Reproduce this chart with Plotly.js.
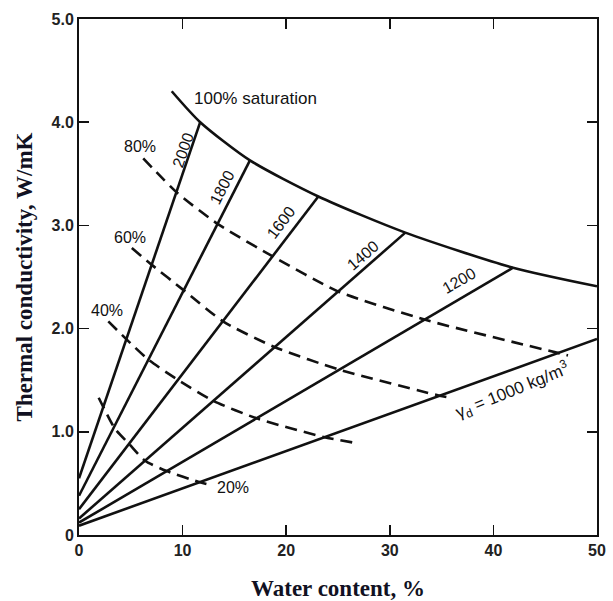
<!DOCTYPE html>
<html>
<head>
<meta charset="utf-8">
<script src="https://cdn.plot.ly/plotly-3.0.1.min.js"></script>
<style>html,body{margin:0;padding:0;background:#fff;}#chart{width:613px;height:601px;}</style>
</head>
<body>
<div id="chart"></div>
<script>
// Dry density lines (kg/m3): start at x=0, end on the 100% saturation curve
const densities = ["2000", "1800", "1600", "1400", "1200", "1000"];
const densX = [[0, 11.7], [0, 16.5], [0, 23.1], [0, 31.5], [0, 41.9], [0, 50]];
const densY = [[0.55, 4.0], [0.38, 3.63], [0.25, 3.28], [0.16, 2.93], [0.12, 2.59], [0.09, 1.90]];

// 100% saturation curve
const satX = [8.95, 11.7, 16.5, 23.1, 31.5, 41.9, 50];
const satY = [4.30, 4.0, 3.63, 3.28, 2.93, 2.59, 2.41];

// Partial saturation curves (dashed)
const s80X = [6.2, 9.43, 13.45, 18.7, 25.0, 33.6, 46.4, 47.2];
const s80Y = [3.65, 3.32, 3.01, 2.70, 2.36, 2.08, 1.76, 1.74];
const s60X = [5.1, 7.0, 10.0, 13.9, 18.9, 25.2, 34.8, 35.8];
const s60Y = [2.78, 2.62, 2.38, 2.07, 1.82, 1.60, 1.35, 1.33];
const s40X = [2.83, 4.54, 6.69, 9.59, 12.96, 17.15, 23.6, 26.8];
const s40Y = [2.07, 1.90, 1.70, 1.50, 1.30, 1.13, 0.95, 0.89];
const s20X = [1.9, 2.35, 3.47, 4.86, 6.37, 8.46, 11.7, 12.5];
const s20Y = [1.33, 1.24, 1.03, 0.88, 0.72, 0.62, 0.51, 0.49];

const xTicks = [0, 10, 20, 30, 40, 50];
const xTickText = ["0", "10", "20", "30", "40", "50"];
const yTicks = [0, 1, 2, 3, 4, 5];
const yTickText = ["0", "1.0", "2.0", "3.0", "4.0", "5.0"];

const ink = "#111111";
const traces = [];
densities.forEach((d, i) => {
  traces.push({x: densX[i], y: densY[i], mode: "lines", name: d,
    line: {color: ink, width: 2.6}, hoverinfo: "skip"});
});
traces.push({x: satX, y: satY, mode: "lines", name: "100%",
  line: {color: ink, width: 2.6, shape: "spline", smoothing: 0.7}});
[[s80X, s80Y, "80%"], [s60X, s60Y, "60%"], [s40X, s40Y, "40%"], [s20X, s20Y, "20%"]].forEach(s => {
  traces.push({x: s[0], y: s[1], mode: "lines", name: s[2],
    line: {color: ink, width: 2.6, dash: "12px,7px", shape: "spline", smoothing: 0.6}});
});

function ann(x, y, text, angle, size, xanchor) {
  return {x: x, y: y, xref: "x", yref: "y", text: text, showarrow: false,
    textangle: angle || 0, xanchor: xanchor || "center", yanchor: "middle",
    font: {family: "Liberation Sans, Arial, sans-serif", size: size || 16, color: ink}};
}
const annotations = [
  ann(10.9, 4.23, "100% saturation", 0, 17, "left"),
  ann(5.9, 3.76, "80%"),
  ann(4.9, 2.88, "60%"),
  ann(2.7, 2.18, "40%"),
  ann(14.9, 0.46, "20%"),
  ann(10.0, 3.73, "2000", -71),
  ann(13.8, 3.37, "1800", -63),
  ann(19.5, 3.03, "1600", -53),
  ann(27.4, 2.71, "1400", -41),
  ann(36.7, 2.47, "1200", -30),
  ann(41.8, 1.40, "γ<sub>d</sub> = 1000 kg/m<sup>3</sup>", -22, 17)
];

const tickFont = {family: "Liberation Sans, Arial, sans-serif", size: 16, color: "#222", weight: "bold"};
const titleFont = {family: "Liberation Serif, Times New Roman, serif", size: 23, color: "#111122", weight: "bold"};

const layout = {
  width: 613, height: 601,
  margin: {l: 79, r: 16, t: 19, b: 66},
  paper_bgcolor: "#fff", plot_bgcolor: "#fff",
  showlegend: false,
  xaxis: {range: [0, 50], tickvals: xTicks, ticktext: xTickText, ticks: "inside", ticklen: 10,
    tickwidth: 1.5, tickcolor: ink, showline: true, linecolor: ink, linewidth: 2, mirror: "ticks",
    showgrid: false, zeroline: false, tickfont: tickFont,
    title: {text: "Water content, %", font: titleFont, standoff: 25}},
  yaxis: {range: [0, 5], tickvals: yTicks, ticktext: yTickText, ticks: "inside", ticklen: 10,
    tickwidth: 1.5, tickcolor: ink, showline: true, linecolor: ink, linewidth: 2, mirror: "ticks",
    showgrid: false, zeroline: false, tickfont: tickFont,
    title: {text: "Thermal conductivity, W/mK", font: titleFont, standoff: 12}},
  annotations: annotations
};

Plotly.newPlot("chart", traces, layout, {staticPlot: true, displayModeBar: false});
</script>
</body>
</html>
